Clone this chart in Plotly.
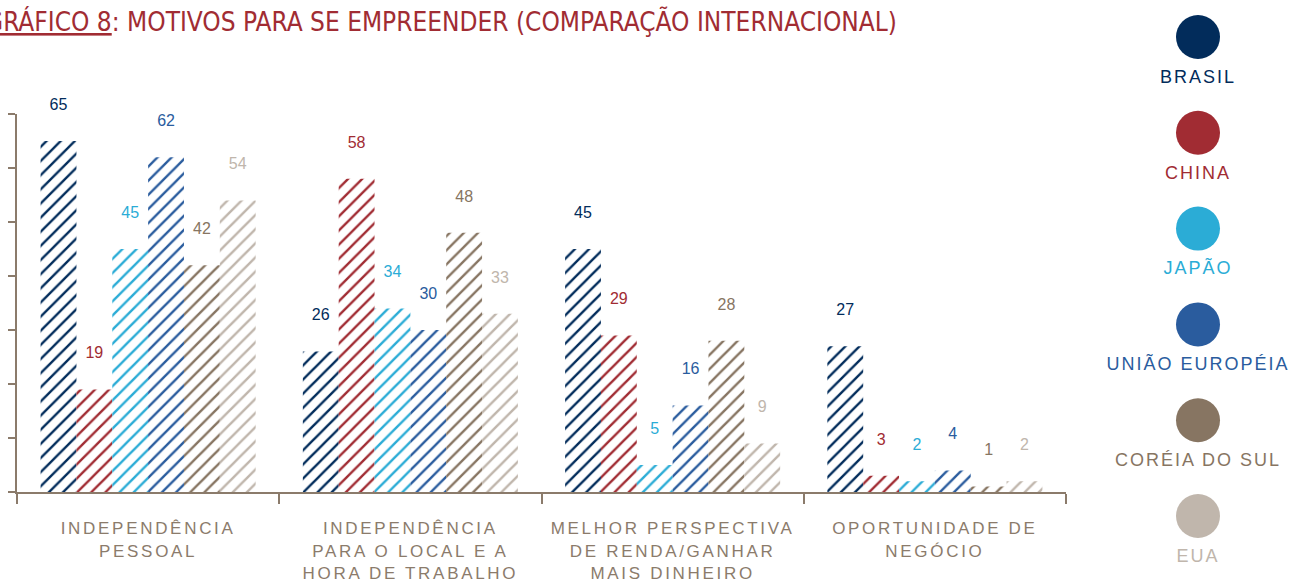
import plotly.graph_objects as go

categories = [
    "INDEPENDÊNCIA<br>PESSOAL",
    "INDEPENDÊNCIA<br>PARA O LOCAL E A<br>HORA DE TRABALHO",
    "MELHOR PERSPECTIVA<br>DE RENDA/GANHAR<br>MAIS DINHEIRO",
    "OPORTUNIDADE DE<br>NEGÓCIO",
]
series_names = ["BRASIL", "CHINA", "JAPÃO", "UNIÃO EUROPÉIA", "CORÉIA DO SUL", "EUA"]
brasil = [65, 26, 45, 27]
china = [19, 58, 29, 3]
japao = [45, 34, 5, 2]
uniao_europeia = [62, 30, 16, 4]
coreia_do_sul = [42, 48, 28, 1]
eua = [54, 33, 9, 2]
series_values = [brasil, china, japao, uniao_europeia, coreia_do_sul, eua]
colors = ["#022C5B", "#A12C33", "#2BACD6", "#2A5C9E", "#877562", "#C0B6AC"]

title_text = ("<span style='text-decoration:underline'>GRÁFICO 8</span>: "
              "MOTIVOS PARA SE EMPREENDER (COMPARAÇÃO INTERNACIONAL)")

AXIS_COLOR = "#8B7B6B"
W, H = 1291, 581
ML = 17
PW = W - ML


def spaced(label, ls):
    tpl = "<span style='letter-spacing:" + ls + "'>{}</span>"
    return "<br>".join(tpl.format(part) for part in label.split("<br>"))


fig = go.Figure()

for name, vals, col in zip(series_names, series_values, colors):
    fig.add_trace(go.Bar(
        x=categories, y=vals, name=name,
        marker=dict(color="white", line=dict(width=0),
                    pattern=dict(shape="/", fgcolor=col, bgcolor="white",
                                 size=10, solidity=0.24, fillmode="replace")),
        showlegend=False, hoverinfo="skip",
    ))

for name, vals, col in zip(series_names, series_values, colors):
    fig.add_trace(go.Scatter(
        x=categories, y=vals, mode="markers+text",
        text=[str(v) for v in vals], textposition="top center",
        textfont=dict(family="Liberation Sans", size=16, color=col),
        marker=dict(size=42, color="rgba(0,0,0,0)"),
        cliponaxis=False, showlegend=False, hoverinfo="skip",
    ))

# Legend column (circles with labels beneath)
legend_pos = list(range(len(series_names)))
fig.add_trace(go.Scatter(
    x=[0] * len(series_names), y=legend_pos, mode="markers",
    marker=dict(size=44, color=colors),
    offsetgroup="legend", alignmentgroup="legend",
    xaxis="x2", yaxis="y2", cliponaxis=False, showlegend=False, hoverinfo="skip",
))
fig.add_trace(go.Scatter(
    x=[0] * len(series_names), y=legend_pos,
    mode="markers+text", text=[spaced(n, "2px") for n in series_names],
    textposition="bottom center",
    textfont=dict(family="Liberation Sans", size=18, color=colors),
    marker=dict(size=50, color="rgba(0,0,0,0)"),
    offsetgroup="legend", alignmentgroup="legend",
    xaxis="x2", yaxis="y2", cliponaxis=False, showlegend=False, hoverinfo="skip",
))

x_right = (1066 - ML) / PW
y_bot = (H - 492) / H
y_top = (H - 114) / H

fig.update_layout(
    width=W, height=H,
    margin=dict(l=ML, r=0, t=0, b=0),
    paper_bgcolor="white", plot_bgcolor="white",
    barmode="group", bargap=0.18, bargroupgap=0,
    scattermode="group", scattergap=0.18,
    xaxis=dict(domain=[0, x_right], type="category", showline=True, linecolor=AXIS_COLOR,
               linewidth=2, ticks="outside", tickson="boundaries", ticklen=10,
               tickcolor=AXIS_COLOR, tickwidth=2, showgrid=False, zeroline=False,
               tickmode="array", tickvals=categories,
               ticktext=[spaced(c, "2.7px") for c in categories],
               tickfont=dict(family="Liberation Sans", size=17, color=AXIS_COLOR),
               ticklabelstandoff=20, automargin=False, fixedrange=True),
    yaxis=dict(domain=[y_bot, y_top], range=[0, 70], dtick=10, showline=True,
               linecolor=AXIS_COLOR, linewidth=2, ticks="outside", ticklen=7,
               tickcolor=AXIS_COLOR, tickwidth=2, showticklabels=False,
               showgrid=False, zeroline=False, automargin=False),
    xaxis2=dict(domain=[(1105 - ML) / PW, 1], range=[-1, 1], visible=False,
                anchor="y2", automargin=False),
    yaxis2=dict(domain=[0, 1], range=[5.678, -0.386], visible=False,
                anchor="x2", automargin=False),
    annotations=[dict(
        text=title_text, xref="paper", yref="paper",
        x=(-17 - ML) / PW, y=1 - 22 / H, xanchor="left", yanchor="middle",
        showarrow=False,
        font=dict(family="DejaVu Sans Condensed, Liberation Sans", size=26, color="#A12C33"),
    )],
)

fig.write_html("out.html", config={"displayModeBar": False},
               post_script="document.body.style.margin='0';document.body.style.overflow='hidden';")
